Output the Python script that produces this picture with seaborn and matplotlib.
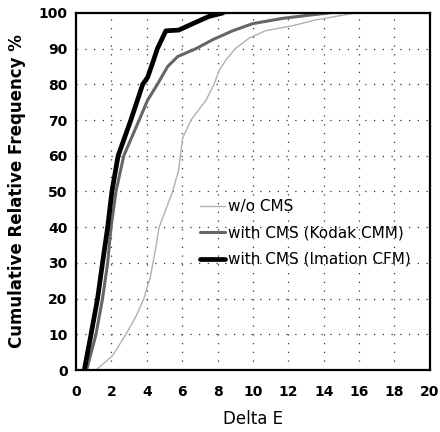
import matplotlib
matplotlib.use("Agg")
import matplotlib.pyplot as plt
import seaborn as sns
import pandas as pd

# Data (Delta E vs cumulative %)
wo_x = [1.13, 2.07, 2.82, 3.39, 3.84, 3.95, 4.2, 4.35, 4.5, 4.7, 5.08, 5.46, 5.8, 5.95, 6.03,
        6.5, 7.35, 7.8, 8.1, 8.5, 9.0, 9.8, 10.7, 12.3, 13.5, 15.1, 15.8]
wo_y = [0, 4, 10, 15, 20, 22, 26, 30, 34, 40, 45, 50, 56, 62, 65,
        70, 75.6, 80, 84, 87, 90, 93, 95, 96.5, 98, 99.4, 100]

kodak_x = [0.6, 1.13, 1.5, 1.79, 1.98, 2.26, 2.7, 3.57, 4.05, 4.6, 5.18, 5.75, 6.78, 7.72,
           8.85, 9.98, 11.7, 13.2, 14.3]
kodak_y = [0, 10, 20, 30, 40, 50, 60, 70, 75.6, 80, 85, 87.8, 90, 92.5,
           95, 97, 98.5, 99.4, 100]

imation_x = [0.47, 0.85, 1.22, 1.5, 1.79, 2.03, 2.38, 3.1, 3.77, 4.05, 4.4, 4.6, 5.08, 5.8,
             6.6, 7.5, 8.3]
imation_y = [0, 10, 20, 30, 40, 50, 60, 70, 80, 82, 87, 90, 95, 95.2,
             97, 99, 100]

labels = ["w/o CMS", "with CMS (Kodak CMM)", "with CMS (Imation CFM)"]
x_ticks = list(range(0, 21, 2))
y_ticks = list(range(0, 101, 10))

sns.set_theme(style="white")
plt.rcParams['font.family'] = ['DejaVu Sans']
plt.rcParams['text.color'] = 'black'
plt.rcParams['axes.labelcolor'] = 'black'
plt.rcParams['xtick.color'] = 'black'
plt.rcParams['ytick.color'] = 'black'

fig = plt.figure(figsize=(4.4, 4.32), dpi=100)
ax = fig.add_axes([0.1727, 0.1435, 0.8043, 0.8265])

styles = [("#b0b0b0", 1.0), ("#666666", 2.2), ("#000000", 3.4)]
for xs, ys, lab, (c, lw) in zip([wo_x, kodak_x, imation_x], [wo_y, kodak_y, imation_y], labels, styles):
    df = pd.DataFrame({"x": xs, "y": ys})
    sns.lineplot(data=df, x="x", y="y", ax=ax, color=c, linewidth=lw, label=lab,
                 sort=False, estimator=None)

ax.set_xlim(0, 20)
ax.set_ylim(0, 100)
ax.set_xticks(x_ticks)
ax.set_yticks(y_ticks)
ax.tick_params(axis='x', labelsize=10, length=0, pad=11, labelcolor='black')
ax.tick_params(axis='y', labelsize=10, length=0, pad=6, labelcolor='black')
for t in ax.get_xticklabels() + ax.get_yticklabels():
    t.set_fontweight('bold')
ax.grid(True, linestyle=(0, (1, 6)), color='#333333', linewidth=0.9)
for s in ax.spines.values():
    s.set_color('black')
    s.set_linewidth(1.6)

ax.set_xlabel("Delta E", fontsize=12, labelpad=8, color='black')
ax.set_ylabel("Cumulative Relative Frequency %", fontsize=12, fontweight='bold', labelpad=9,
              color='black')

leg = ax.legend(loc='center right', bbox_to_anchor=(0.945, 0.384), frameon=False, fontsize=11,
                handlelength=1.6, handletextpad=0.2, labelspacing=0.75, borderaxespad=0,
                borderpad=0)
for t in leg.get_texts():
    t.set_color('black')

fig.savefig("out.png", dpi=100)
